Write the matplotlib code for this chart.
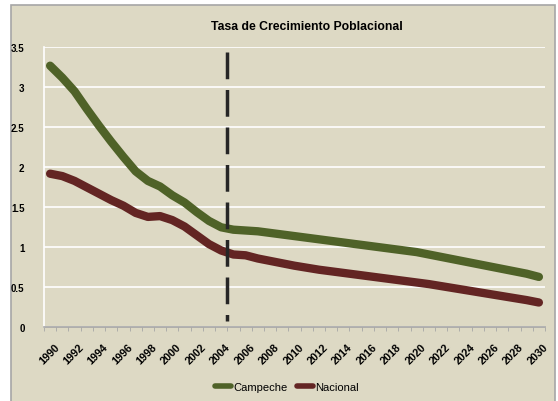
import matplotlib.pyplot as plt
import matplotlib.transforms as mtransforms
import numpy as np
from matplotlib.patches import Rectangle

years = list(range(1990, 2031))
campeche = [3.27, 3.12, 2.95, 2.73, 2.52, 2.32, 2.13, 1.95, 1.83, 1.76,
            1.65, 1.56, 1.44, 1.33, 1.25, 1.22, 1.21, 1.20, 1.18, 1.16,
            1.14, 1.12, 1.10, 1.08, 1.06, 1.04, 1.02, 1.00, 0.98, 0.96,
            0.94, 0.91, 0.88, 0.85, 0.82, 0.79, 0.76, 0.73, 0.70, 0.67, 0.63]
nacional = [1.92, 1.89, 1.83, 1.75, 1.67, 1.59, 1.52, 1.43, 1.38, 1.39,
            1.34, 1.26, 1.15, 1.04, 0.96, 0.91, 0.90, 0.86, 0.83, 0.80,
            0.77, 0.745, 0.72, 0.70, 0.68, 0.66, 0.64, 0.62, 0.60, 0.58,
            0.56, 0.54, 0.515, 0.49, 0.465, 0.44, 0.415, 0.39, 0.365, 0.34, 0.31]
yticks = [0, 0.5, 1, 1.5, 2, 2.5, 3, 3.5]
ytick_labels = ['0', '0.5', '1', '1.5', '2', '2.5', '3', '3.5']

bg = '#ddd9c4'
plt.rcParams['font.family'] = ['Liberation Sans', 'DejaVu Sans']

fig = plt.figure(figsize=(5.58, 4.02), dpi=100)
fig.patch.set_facecolor('white')
fig.patches.append(Rectangle((11/558, -0.01), 544/558, 396/402 + 0.01,
                             transform=fig.transFigure, facecolor=bg,
                             edgecolor='#a6a6a6', linewidth=1.2, zorder=-10))

ax = fig.add_axes([44/558, 73.7/402, 501/558, 280/402])
ax.set_facecolor(bg)
x = np.arange(len(years))

ax.set_ylim(0, 3.5)
ax.set_xlim(-0.5, len(years) - 0.5)
ax.set_yticks(yticks)
ax.set_yticklabels(ytick_labels, fontsize=7, fontweight='bold')
ax.yaxis.grid(True, color='white', linewidth=1.2, zorder=1)
ax.set_axisbelow(True)
ax.tick_params(axis='y', length=0, pad=14)

ax.set_xticks(np.arange(-0.5, len(years)), minor=True)
ax.set_xticks(x[::2])
ax.set_xticklabels([str(y) for y in years[::2]], rotation=45,
                   fontsize=7.8, fontweight='bold', ha='right', va='top',
                   rotation_mode='anchor')
ax.tick_params(axis='x', which='major', length=0, pad=10)
ax.tick_params(axis='x', which='minor', length=3, color='#a6a6a6')
shift = mtransforms.ScaledTranslation(4/100, 0, fig.dpi_scale_trans)
for lbl in ax.get_xticklabels():
    lbl.set_transform(lbl.get_transform() + shift)

for side in ['top', 'right']:
    ax.spines[side].set_visible(False)
ax.spines['left'].set_color('white')
ax.spines['left'].set_linewidth(1.2)
ax.spines['bottom'].set_color('#a6a6a6')
ax.spines['bottom'].set_linewidth(1.2)

ax.plot(x, campeche, color='#4f6228', linewidth=6, solid_capstyle='round',
        solid_joinstyle='round', label='Campeche', zorder=3)
ax.plot(x, nacional, color='#632523', linewidth=6, solid_capstyle='round',
        solid_joinstyle='round', label='Nacional', zorder=3)
# dashed divider between observed and projected years
ax.plot([14.5, 14.5], [3.44, 0.08], color='#262626', linewidth=2.5,
        dashes=(7.7, 3.1), zorder=4)

fig.text(307/558, 1 - 27/402, 'Tasa de Crecimiento Poblacional',
         ha='center', va='center', fontsize=8.8, fontweight='bold')

leg = fig.legend(loc='center', bbox_to_anchor=(287/558, 1 - 388/402), ncol=2,
                 frameon=False, fontsize=8, handlelength=1.4,
                 handletextpad=0.2, columnspacing=0.9)
for ln in leg.get_lines():
    ln.set_linewidth(4)

fig.savefig('out.png', dpi=100, facecolor=fig.get_facecolor())
